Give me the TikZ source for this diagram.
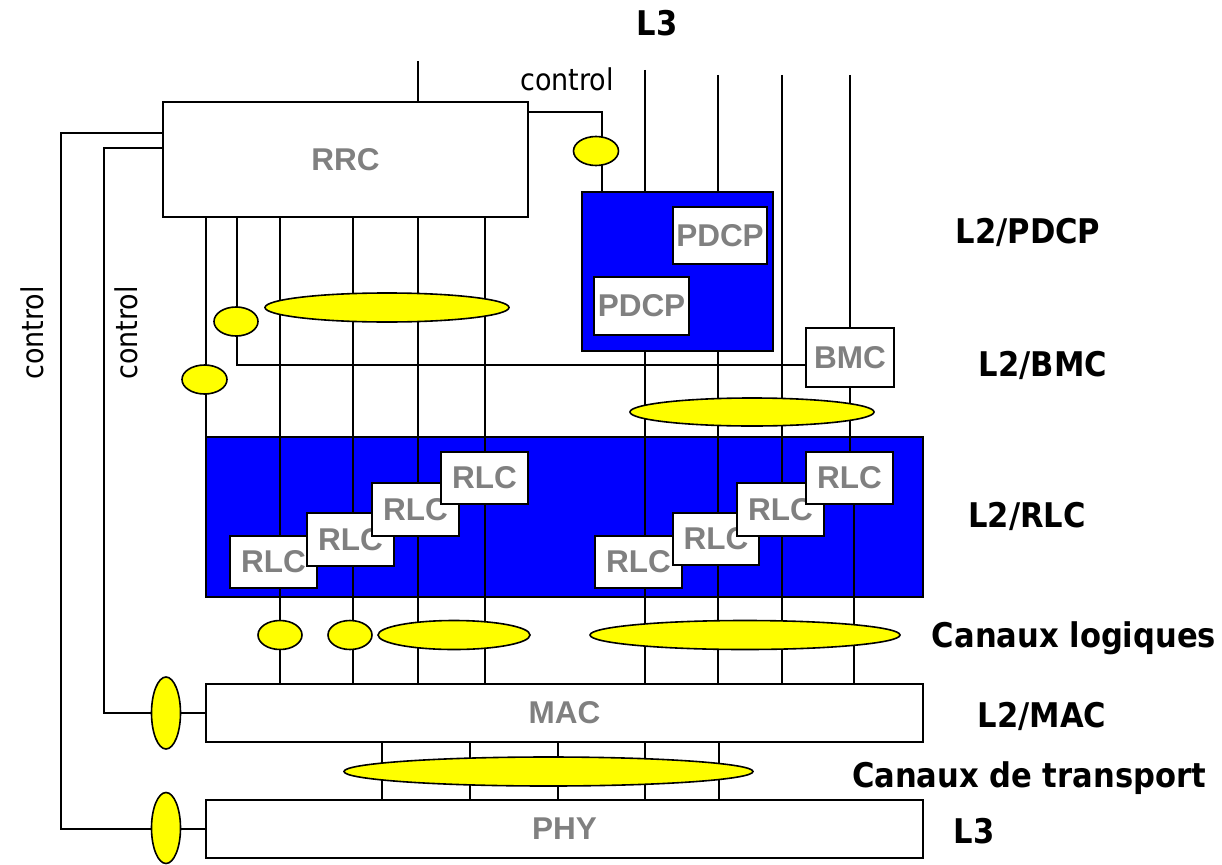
\documentclass[tikz,border=0pt]{standalone}
\usepackage{fontspec}
\setmainfont{DejaVu Sans Condensed}
\newfontfamily\arialf{Liberation Sans}
\usetikzlibrary{shapes.geometric}
\definecolor{layerblue}{RGB}{0,0,255}
\definecolor{chanyellow}{RGB}{255,255,0}
\definecolor{labgray}{RGB}{128,128,128}
\begin{document}
\begin{tikzpicture}[x=1pt,y=-1pt,
  box/.style={draw=black, line width=1.8pt, fill=white, inner sep=0pt, outer sep=0pt, anchor=north west,
    font=\arialf\bfseries\fontsize{31.5}{31.5}\selectfont, text=labgray},
  bluebox/.style={draw=black, line width=1.8pt, fill=layerblue, inner sep=0pt, outer sep=0pt, anchor=north west},
  chan/.style={ellipse, draw=black, line width=1.6pt, fill=chanyellow, inner sep=0pt, outer sep=0pt},
  wire/.style={line width=1.5pt},
  lab/.style={font=\bfseries\fontsize{34}{34}\selectfont, text=black, anchor=base, inner sep=0pt},
  ctl/.style={font=\fontsize{30}{30}\selectfont, text=black, anchor=base, inner sep=0pt}]
\useasboundingbox (0,0) rectangle (1222,864);
\fill[white] (0,0) rectangle (1222,864);

% blue layer boxes
\node[bluebox, minimum width=191pt, minimum height=159pt] (pdcp) at (582,192) {};
\node[bluebox, minimum width=717pt, minimum height=160pt] (rlcbig) at (206,437) {};

% line positions
\coordinate (xa) at (206,0);
\coordinate (xb) at (237,0);
\coordinate (x1) at (280,0);
\coordinate (x2) at (353,0);
\coordinate (x3) at (418,0);
\coordinate (x4) at (485,0);
\coordinate (x5) at (645,0);
\coordinate (x6) at (718,0);
\coordinate (x7) at (782,0);
\coordinate (x8) at (850,0);
\coordinate (x8b) at (854,0);
\coordinate (t1) at (382,0);
\coordinate (t2) at (470,0);
\coordinate (t3) at (558,0);
\coordinate (t4) at (645,0);
\coordinate (t5) at (719,0);
\coordinate (top418) at (418,61);
\coordinate (top645) at (645,70);
\coordinate (top718) at (718,75);
\coordinate (top782) at (782,75);
\coordinate (top850) at (850,75);
\coordinate (ctlA) at (61,133);
\coordinate (ctlB) at (104,148);
\coordinate (ctlC) at (602,112);

% white boxes
\node[box, minimum width=365pt, minimum height=115pt] (rrc) at (163,102) {RRC};
\node[box, minimum width=94pt, minimum height=57pt] (pdcp1) at (673,207) {PDCP};
\node[box, minimum width=95pt, minimum height=58pt] (pdcp2) at (594,277) {PDCP};
\node[box, minimum width=88pt, minimum height=59pt] (bmc) at (806,328) {BMC};
\node[box, minimum width=717pt, minimum height=58pt] (mac) at (206,684) {MAC};
\node[box, minimum width=717pt, minimum height=58pt] (phy) at (206,800) {PHY};

% wires
\draw[wire] (top418) -- (top418 |- rrc.north);
\draw[wire] (rrc.east |- ctlC) -- (ctlC) -- (ctlC |- pdcp.north);
\draw[wire] (top645) -- (top645 |- pdcp.north);
\draw[wire] (top718) -- (top718 |- pdcp.north);
\draw[wire] (top850) -- (top850 |- bmc.north);
\draw[wire] (xa |- rrc.south) -- (xa |- rlcbig.north);
\draw[wire] (xb |- rrc.south) |- ([yshift=-7.5pt]bmc.west);
\draw[wire] (rrc.west |- ctlA) -- (ctlA) |- (phy.west);
\draw[wire] (rrc.west |- ctlB) -- (ctlB) |- (mac.west);
\foreach \t in {t1,t2,t3,t4,t5} {\draw[wire] (\t |- mac.south) -- (\t |- phy.north);}

% RLC boxes, each drawn after the previous so it covers its neighbour's text
\node[box, minimum width=87pt, minimum height=52pt] (rlc1) at (230,536) {RLC};
\node[box, minimum width=87pt, minimum height=53pt] (rlc2) at (307,513) {RLC};
\node[box, minimum width=87pt, minimum height=53pt] (rlc3) at (372,483) {RLC};
\node[box, minimum width=87pt, minimum height=52pt] (rlc4) at (441,452) {RLC};
\node[box, minimum width=87pt, minimum height=52pt] (rlc5) at (595,536) {RLC};
\node[box, minimum width=86pt, minimum height=52pt] (rlc6) at (673,513) {RLC};
\node[box, minimum width=87pt, minimum height=53pt] (rlc7) at (737,483) {RLC};
\node[box, minimum width=87pt, minimum height=52pt] (rlc8) at (806,452) {RLC};

\draw[wire] (x1 |- rrc.south) -- (x1 |- rlc1.north);
\draw[wire] (x2 |- rrc.south) -- (x2 |- rlc2.north);
\draw[wire] (x3 |- rrc.south) -- (x3 |- rlc3.north);
\draw[wire] (x4 |- rrc.south) -- (x4 |- rlc4.north);
\draw[wire] (x1 |- rlc1.south) -- (x1 |- mac.north);
\draw[wire] (x2 |- rlc2.south) -- (x2 |- mac.north);
\draw[wire] (x3 |- rlc3.south) -- (x3 |- mac.north);
\draw[wire] (x4 |- rlc4.south) -- (x4 |- mac.north);
\draw[wire] (x5 |- pdcp.south) -- (x5 |- rlc5.north);
\draw[wire] (x6 |- pdcp.south) -- (x6 |- rlc6.north);
\draw[wire] (top782) -- (top782 |- rlc7.north);
\draw[wire] (x8 |- bmc.south) -- (x8 |- rlc8.north);
\draw[wire] (x5 |- rlc5.south) -- (x5 |- mac.north);
\draw[wire] (x6 |- rlc6.south) -- (x6 |- mac.north);
\draw[wire] (x7 |- rlc7.south) -- (x7 |- mac.north);
\draw[wire] (x8b |- rlc8.south) -- (x8b |- mac.north);

% channel ellipses
\node[chan, minimum width=45pt, minimum height=29pt] (ectl) at (596,151) {};
\node[chan, minimum width=244pt, minimum height=28pt] (ebmc) at (752,412) {};
\node[chan, minimum width=244pt, minimum height=29pt] (errc) at (387,307.5) {};
\node[chan, minimum width=44pt, minimum height=29pt] (eb) at (236,321.5) {};
\node[chan, minimum width=45pt, minimum height=29pt] (ea) at (204.5,379.5) {};
\node[chan, minimum width=44pt, minimum height=29pt] (elog1) at (280,635) {};
\node[chan, minimum width=44pt, minimum height=29pt] (elog2) at (350,635) {};
\node[chan, minimum width=152pt, minimum height=29pt] (elog3) at (454,635) {};
\node[chan, minimum width=310pt, minimum height=29pt] (elog4) at (745,635) {};
\node[chan, minimum width=409pt, minimum height=29pt] (etr) at (548.5,771.5) {};
\node[chan, minimum width=29pt, minimum height=72pt] (emac) at (166,713) {};
\node[chan, minimum width=29pt, minimum height=71pt] (ephy) at (166,828) {};

% labels
\node[lab] (l3top) at (657,36) {L3};
\node[lab] (lpdcp) at (1028,243) {L2/PDCP};
\node[lab] (lbmc) at (1043,376) {L2/BMC};
\node[lab] (lrlc) at (1027,527) {L2/RLC};
\node[lab] (llog) at (1074,647) {Canaux logiques};
\node[lab] (lmac) at (1042,727) {L2/MAC};
\node[lab] (ltr) at (1029,787) {Canaux de transport};
\node[lab] (l3bot) at (974,843) {L3};
\node[ctl] (ctop) at (567,91) {control};
\node[ctl, rotate=90] (cout) at (43,333) {control};
\node[ctl, rotate=90] (cin) at (137,333) {control};
\end{tikzpicture}
\end{document}
